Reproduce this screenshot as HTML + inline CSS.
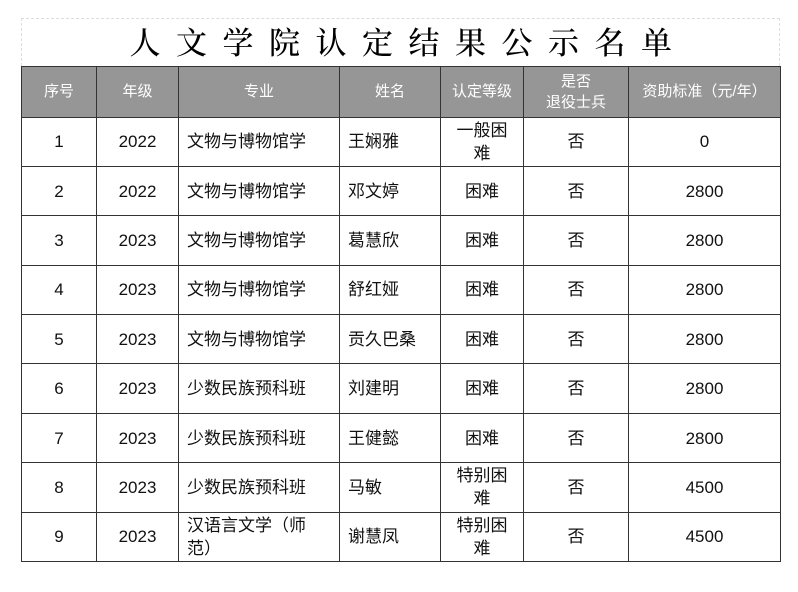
<!DOCTYPE html>
<html><head><meta charset="utf-8"><style>
body{margin:0;background:#fff;width:798px;height:592px;overflow:hidden;}
.t{position:absolute;left:21px;top:18px;width:759px;height:48px;border:1px dashed #ddd;border-bottom:none;box-sizing:border-box;
font-family:"Noto Serif CJK SC",serif;font-size:31px;font-weight:500;text-align:center;line-height:44px;letter-spacing:15.5px;padding-left:16px;}
table{position:absolute;left:21px;top:66px;border-collapse:collapse;table-layout:fixed;}
td{border:1.5px solid #333;text-align:center;padding:0;font-family:"Liberation Sans","Noto Sans CJK SC",sans-serif;font-size:17px;color:#111;height:48.4px;line-height:23px;}
tr.h td{background:#969696;color:#fff;font-size:15px;height:49.5px;line-height:21px;}
td.l{text-align:left;padding-left:8px;}
</style></head><body>
<div class="t">人文学院认定结果公示名单</div>
<table>
<colgroup><col style="width:75px"><col style="width:82px"><col style="width:161px"><col style="width:101px"><col style="width:83px"><col style="width:105px"><col style="width:152px"></colgroup>
<tr class="h"><td>序号</td><td>年级</td><td>专业</td><td>姓名</td><td>认定等级</td><td>是否<br>退役士兵</td><td>资助标准（元/年）</td></tr>
<tr><td>1</td><td>2022</td><td class="l">文物与博物馆学</td><td class="l">王娴雅</td><td>一般困<br>难</td><td>否</td><td>0</td></tr>
<tr><td>2</td><td>2022</td><td class="l">文物与博物馆学</td><td class="l">邓文婷</td><td>困难</td><td>否</td><td>2800</td></tr>
<tr><td>3</td><td>2023</td><td class="l">文物与博物馆学</td><td class="l">葛慧欣</td><td>困难</td><td>否</td><td>2800</td></tr>
<tr><td>4</td><td>2023</td><td class="l">文物与博物馆学</td><td class="l">舒红娅</td><td>困难</td><td>否</td><td>2800</td></tr>
<tr><td>5</td><td>2023</td><td class="l">文物与博物馆学</td><td class="l">贡久巴桑</td><td>困难</td><td>否</td><td>2800</td></tr>
<tr><td>6</td><td>2023</td><td class="l">少数民族预科班</td><td class="l">刘建明</td><td>困难</td><td>否</td><td>2800</td></tr>
<tr><td>7</td><td>2023</td><td class="l">少数民族预科班</td><td class="l">王健懿</td><td>困难</td><td>否</td><td>2800</td></tr>
<tr><td>8</td><td>2023</td><td class="l">少数民族预科班</td><td class="l">马敏</td><td>特别困<br>难</td><td>否</td><td>4500</td></tr>
<tr><td>9</td><td>2023</td><td class="l">汉语言文学（师<br>范）</td><td class="l">谢慧凤</td><td>特别困<br>难</td><td>否</td><td>4500</td></tr>
</table>
</body></html>
